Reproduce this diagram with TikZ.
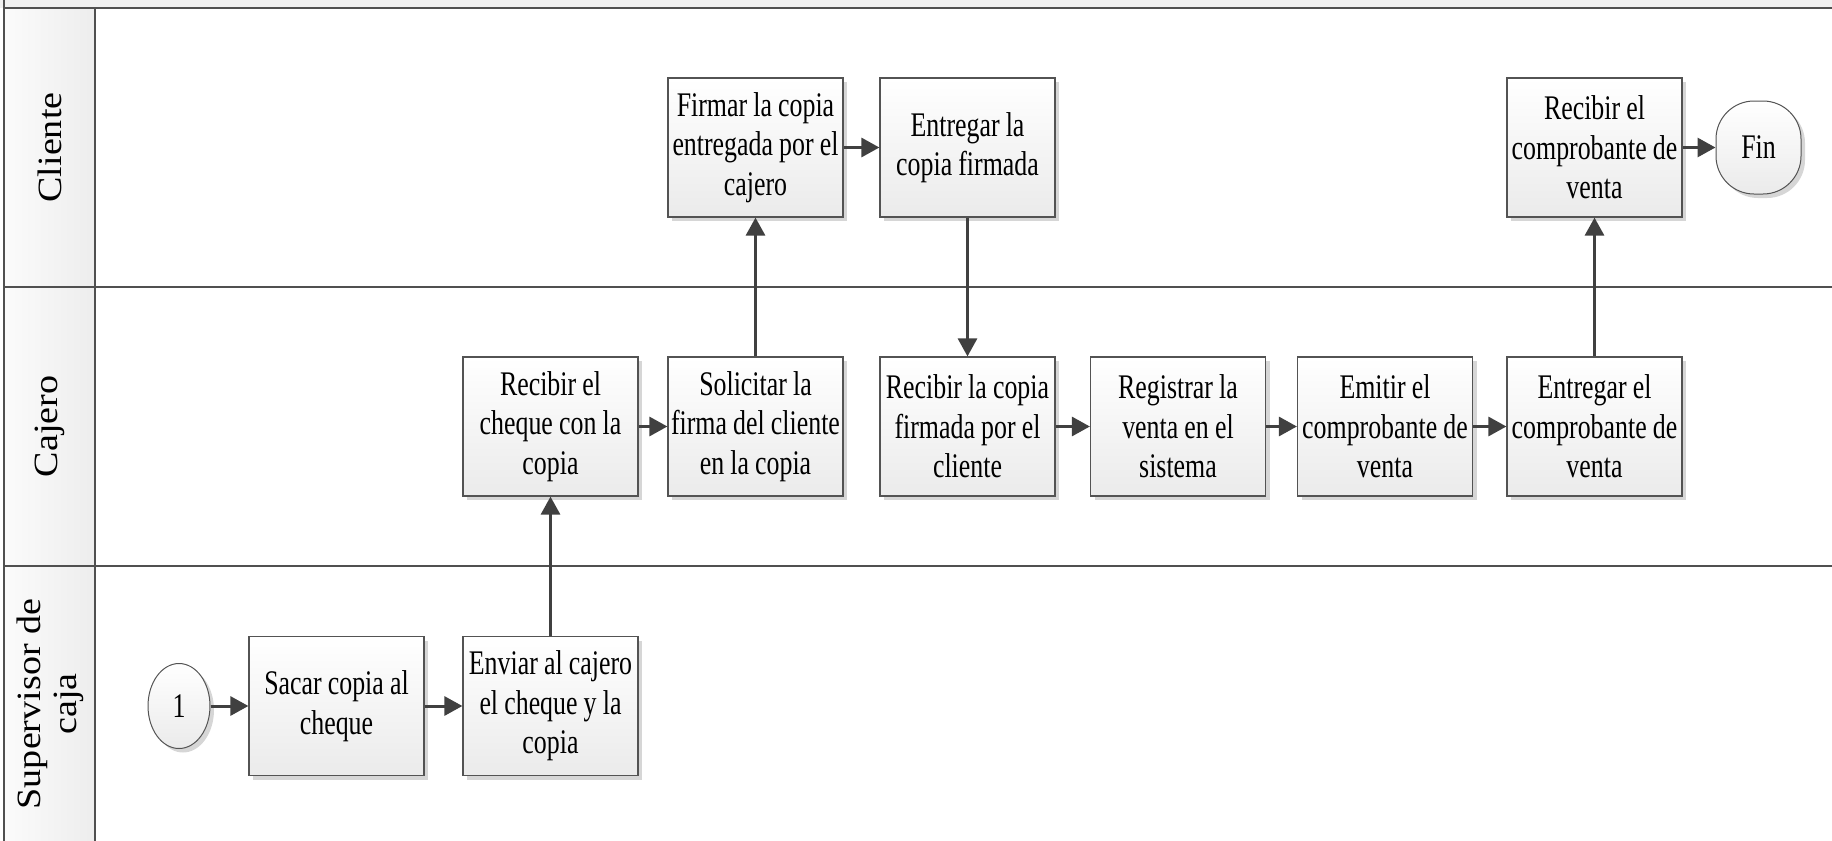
\documentclass[tikz,border=0pt]{standalone}
\usepackage{fontspec}
\setmainfont{Liberation Serif}
\newfontfamily\boxfont[FakeStretch=0.75, WordSpace=0.95]{Liberation Serif}
\newfontfamily\lanefont[FakeStretch=1.12]{Liberation Serif}
\usetikzlibrary{arrows.meta,shapes.geometric,shadows}
\definecolor{edge}{HTML}{404040}
\definecolor{rule}{HTML}{505050}
\definecolor{shade}{HTML}{D6D6D6}
\tikzset{
  x=1pt, y=-1pt,
  lanerule/.style={draw=rule, line width=2pt},
  lanehead/.style={left color=white!97!gray, right color=gray!14},
  lanelabel/.style={rotate=90, align=center, font=\lanefont\fontsize{34}{36}\selectfont},
  boxtext/.style={font=\boxfont\fontsize{34.5}{39.5}\selectfont},
  procbox/.style={boxtext, draw=edge!90, line width=1.2pt, top color=white, bottom color=gray!16,
    minimum width=175pt, minimum height=139pt, inner sep=0pt, align=center,
    drop shadow={shadow xshift=4pt, shadow yshift=-4pt, fill=shade, opacity=1}},
  termbox/.style={boxtext, draw=edge!90, line width=1pt, top color=white, bottom color=gray!16,
    rounded corners=38pt, minimum width=85pt, minimum height=93pt, inner sep=0pt,
    drop shadow={shadow xshift=4pt, shadow yshift=-4pt, fill=shade, opacity=1}},
  connbox/.style={boxtext, ellipse, draw=edge!90, line width=1pt, top color=white, bottom color=gray!16,
    minimum width=62pt, minimum height=85pt, inner sep=0pt,
    drop shadow={shadow xshift=4pt, shadow yshift=-4pt, fill=shade, opacity=1}},
  flow/.style={draw=edge, line width=3pt, -{Triangle[length=18pt,width=19pt]}},
}
\begin{document}
\begin{tikzpicture}
  \useasboundingbox (0,0) rectangle (1832,841);
  % pool header strip and lane header column
  \fill[gray!12] (0,0) rectangle (1832,8);
  \shade[lanehead] (4,8) rectangle (95,850);
  % lane rules
  \draw[lanerule] (4,8) -- (1840,8);
  \draw[lanerule] (4,287) -- (1840,287);
  \draw[lanerule] (4,566) -- (1840,566);
  \draw[lanerule] (4,0) -- (4,850);
  \draw[lanerule] (95,8) -- (95,850);

  % lane titles
  \node[lanelabel] (lCliente) at (49.5,147.5) {Cliente};
  \node[lanelabel] (lCajero) at (49.5,426.5) {Cajero};
  \node[lanelabel] (lSuper) at (50,704) {Supervisor de\\caja};

  % Supervisor de caja
  \node[connbox] (start) at (179,706) {1};
  \node[procbox] (sacar) at (336.5,706) {Sacar copia al\\cheque};
  \node[procbox] (enviar) at (550.5,706) {Enviar al cajero\\el cheque y la\\copia};

  % Cajero
  \node[procbox] (recCheque) at (550.5,426.5) {Recibir el\\cheque con la\\copia};
  \node[procbox] (solicitar) at (755.5,426.5) {Solicitar la\\firma del cliente\\en la copia};
  \node[procbox] (recCopia) at (967.5,426.5) {Recibir la copia\\firmada por el\\cliente};
  \node[procbox] (registrar) at (1178,426.5) {Registrar la\\venta en el\\sistema};
  \node[procbox] (emitir) at (1385,426.5) {Emitir el\\comprobante de\\venta};
  \node[procbox] (entComp) at (1594.5,426.5) {Entregar el\\comprobante de\\venta};

  % Cliente
  \node[procbox] (firmar) at (755.5,147.5) {Firmar la copia\\entregada por el\\cajero};
  \node[procbox] (entCopia) at (967.5,147.5) {Entregar la\\copia firmada};
  \node[procbox] (recComp) at (1594.5,147.5) {Recibir el\\comprobante de\\venta};
  \node[termbox] (fin) at (1758.5,147.5) {Fin};

  % flow
  \draw[flow] (start) -- (sacar);
  \draw[flow] (sacar) -- (enviar);
  \draw[flow] (enviar) -- (recCheque);
  \draw[flow] (recCheque) -- (solicitar);
  \draw[flow] (solicitar) -- (firmar);
  \draw[flow] (firmar) -- (entCopia);
  \draw[flow] (entCopia) -- (recCopia);
  \draw[flow] (recCopia) -- (registrar);
  \draw[flow] (registrar) -- (emitir);
  \draw[flow] (emitir) -- (entComp);
  \draw[flow] (entComp) -- (recComp);
  \draw[flow] (recComp) -- (fin);
\end{tikzpicture}
\end{document}
